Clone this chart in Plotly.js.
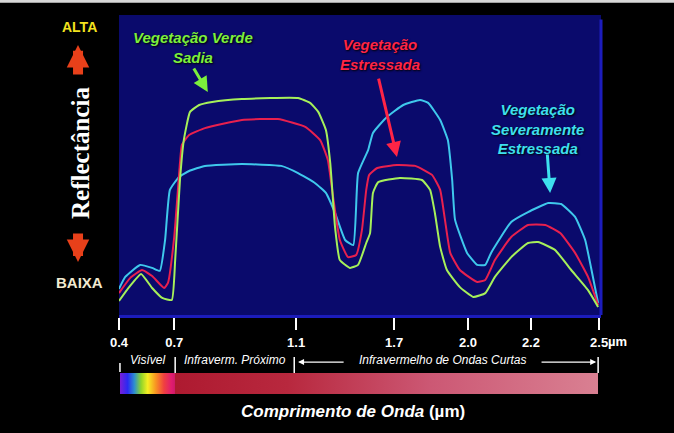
<!DOCTYPE html>
<html>
<head>
<meta charset="utf-8">
<script src="https://cdn.plot.ly/plotly-3.0.1.min.js"></script>
<style>
  html, body { margin: 0; padding: 0; background: #000; }
  #chart { width: 674px; height: 433px; }
</style>
</head>
<body>
<div id="chart"></div>
<script>
// Position along the (schematic) wavelength scale, 0 = 0.4 µm, 100 = 2.5 µm
var tickPositions = [0, 11.5, 36.9, 57.3, 72.7, 85.8, 100];
var tickLabels = ["0.4", "0.7", "1.1", "1.7", "2.0", "2.2", "2.5"];

// Relative reflectance (0 = low, 100 = high)
var greenX = [0, 2.1, 4.6, 6.9, 9.0, 11.0, 11.7, 12.7, 13.5, 14.8, 16.7, 19.4, 25.6, 37.3, 39.8, 41.5, 43.1, 44.0, 45.0, 46.0, 48.1, 49.8, 51.5, 52.3, 52.9, 54.0, 58.5, 63.1, 64.8, 65.8, 66.9, 68.3, 71.0, 73.8, 76.3, 78.3, 81.7, 85.2, 87.3, 90.8, 94.2, 97.7, 99.8];
var greenY = [4.7, 9.3, 13.7, 9.0, 5.7, 5.0, 18.3, 45.0, 58.3, 67.7, 70.0, 71.0, 72.0, 72.3, 70.7, 67.7, 61.7, 50.7, 29.3, 18.3, 15.7, 16.7, 24.0, 27.3, 40.7, 44.3, 45.7, 45.0, 41.7, 34.0, 22.7, 15.0, 9.3, 6.0, 7.3, 12.7, 19.3, 24.0, 24.3, 21.7, 15.0, 8.3, 2.7];

var redX = [0, 2.3, 4.8, 6.9, 9.4, 10.2, 11.5, 12.7, 13.1, 14.6, 17.9, 25.6, 33.1, 38.8, 41.9, 43.5, 44.6, 46.0, 47.7, 49.4, 50.6, 51.5, 52.1, 53.8, 57.9, 61.7, 65.2, 66.9, 67.9, 69.0, 71.0, 74.6, 76.3, 78.3, 81.7, 85.2, 88.8, 91.9, 95.0, 97.7, 99.8];
var redY = [7.3, 12.3, 15.0, 13.0, 9.0, 10.7, 26.0, 50.7, 56.7, 60.0, 62.3, 65.0, 65.3, 62.7, 58.3, 51.7, 39.3, 25.0, 19.3, 20.0, 28.3, 41.7, 46.7, 49.0, 50.0, 49.7, 46.7, 41.7, 31.7, 20.7, 15.0, 11.0, 11.7, 18.3, 26.0, 30.0, 30.0, 27.3, 20.7, 12.7, 3.3];

var cyanX = [0, 1.3, 4.4, 6.9, 8.5, 9.6, 10.6, 12.5, 14.6, 17.9, 25.6, 33.8, 37.3, 40.8, 43.1, 45.0, 47.1, 48.8, 49.8, 51.9, 52.9, 55.8, 59.2, 62.7, 64.4, 66.9, 68.5, 69.4, 70.0, 72.5, 74.6, 76.3, 77.5, 81.7, 85.2, 89.4, 92.1, 95.0, 97.1, 98.3, 99.8];
var cyanY = [8.7, 12.7, 16.7, 15.7, 14.7, 25.0, 41.7, 46.0, 48.0, 49.7, 50.3, 49.7, 47.3, 44.0, 40.7, 34.0, 25.0, 23.3, 47.3, 55.0, 60.7, 66.0, 70.0, 71.7, 70.7, 65.0, 58.3, 45.0, 31.7, 20.7, 16.7, 16.7, 20.7, 31.0, 34.3, 37.3, 37.0, 32.7, 25.0, 16.0, 4.0];

var FONT = "Liberation Sans, Arial, Helvetica, sans-serif";

function curve(x, y, color, name) {
  return {
    type: "scatter", mode: "lines", name: name, x: x, y: y,
    line: { color: color, width: 2, shape: "spline", smoothing: 0.4 },
    hoverinfo: "skip"
  };
}

var traces = [
  curve(cyanX, cyanY, "#3fc8ec", "Vegetação Severamente Estressada"),
  curve(redX, redY, "#e8204e", "Vegetação Estressada"),
  curve(greenX, greenY, "#a6f05a", "Vegetação Verde Sadia")
];

var svg = '<svg xmlns="http://www.w3.org/2000/svg" width="480" height="21" viewBox="0 0 480 21" preserveAspectRatio="none">' +
  '<defs><linearGradient id="g" x1="0" y1="0" x2="1" y2="0">' +
  '<stop offset="0" stop-color="#7a1ed8"/>' +
  '<stop offset="0.016" stop-color="#2a2af2"/>' +
  '<stop offset="0.03" stop-color="#2d8fd0"/>' +
  '<stop offset="0.044" stop-color="#8ed42a"/>' +
  '<stop offset="0.058" stop-color="#f6ee22"/>' +
  '<stop offset="0.075" stop-color="#f89422"/>' +
  '<stop offset="0.092" stop-color="#f04040"/>' +
  '<stop offset="0.108" stop-color="#e01c70"/>' +
  '<stop offset="0.114" stop-color="#d21a6a"/>' +
  '<stop offset="0.116" stop-color="#ae1a30"/>' +
  '<stop offset="0.35" stop-color="#b8283e"/>' +
  '<stop offset="0.65" stop-color="#cc5874"/>' +
  '<stop offset="1" stop-color="#d98092"/>' +
  '</linearGradient></defs><rect x="0" y="0" width="480" height="21" fill="url(#g)"/></svg>';
var svgURI = "data:image/svg+xml;charset=utf-8," + encodeURIComponent(svg);

var shadow = "1px 1px 2px #000";

function pLabel(x, y, text, font, extra) {
  var a = { xref: "paper", yref: "paper", x: x, y: y, text: text, showarrow: false,
            xanchor: "center", yanchor: "middle", font: font };
  if (extra) for (var k in extra) a[k] = extra[k];
  return a;
}

var layout = {
  width: 674, height: 433,
  margin: { l: 119, r: 73, t: 15, b: 118, pad: 0 },
  paper_bgcolor: "#000000",
  plot_bgcolor: "#0a0a6c",
  showlegend: false,
  xaxis: {
    range: [0, 100.4], showgrid: false, zeroline: false,
    tickmode: "array", tickvals: tickPositions, ticktext: tickLabels,
    ticks: "outside", ticklen: 12, tickwidth: 2, tickcolor: "#ffffff",
    ticklabelstandoff: 1,
    tickfont: { family: FONT, size: 13, color: "#ffffff", weight: "bold" },
    showline: true, linecolor: "#1c1cbc", linewidth: 3,
    fixedrange: true
  },
  yaxis: {
    range: [0, 100], showgrid: false, zeroline: false,
    showticklabels: false, ticks: "", showline: false, fixedrange: true
  },
  images: [{
    source: svgURI, xref: "x", yref: "paper",
    x: 0.2, y: -0.1933, sizex: 99.6, sizey: 0.07,
    xanchor: "left", yanchor: "top", sizing: "stretch", layer: "above"
  }],
  shapes: [
    { type: "rect", xref: "paper", yref: "paper", x0: -0.26, x1: 1.16, y0: 1.041, y1: 1.06,
      fillcolor: "#d8d8d8", line: { width: 0 } },
    { type: "line", xref: "paper", yref: "paper", x0: 1, x1: 1, y0: 0, y1: 0.985,
      line: { color: "#1c1cbc", width: 3 } },
    { type: "line", xref: "x", yref: "paper", x0: 0.2, x1: 0.2, y0: -0.16, y1: -0.19, line: { color: "#ffffff", width: 1.5 } },
    { type: "line", xref: "x", yref: "paper", x0: 11.7, x1: 11.7, y0: -0.14, y1: -0.1933, line: { color: "#ffffff", width: 1.5 } },
    { type: "line", xref: "x", yref: "paper", x0: 36.5, x1: 36.5, y0: -0.14, y1: -0.1933, line: { color: "#ffffff", width: 1.5 } },
    { type: "line", xref: "x", yref: "paper", x0: 99.8, x1: 99.8, y0: -0.14, y1: -0.1933, line: { color: "#ffffff", width: 1.5 } }
  ],
  annotations: [
    pLabel(-0.081, 0.96, "<b>ALTA</b>", { family: FONT, size: 14, color: "#f2e21e" }),
    pLabel(-0.081, 0.107, "<b>BAIXA</b>", { family: FONT, size: 15, color: "#f2ead0" }),
    pLabel(-0.081, 0.54, "<b>Reflectância</b>", { family: "Liberation Serif, Times New Roman, serif", size: 25, color: "#ffffff" }, { textangle: -90 }),
    { xref: "paper", yref: "paper", x: -0.085, y: 0.9, ax: 0, ay: 31, text: "", showarrow: true,
      arrowhead: 2, arrowsize: 0.45, arrowwidth: 10, arrowcolor: "#e8401a" },
    { xref: "paper", yref: "paper", x: -0.085, y: 0.177, ax: 0, ay: -30, text: "", showarrow: true,
      arrowhead: 2, arrowsize: 0.45, arrowwidth: 10, arrowcolor: "#e8401a" },

    { xref: "x", yref: "y", x: 15.4, y: 89.3, text: "<b><i>Vegetação Verde<br>Sadia</i></b>", showarrow: false,
      font: { family: FONT, size: 15, color: "#7cf03c", shadow: shadow } },
    { xref: "x", yref: "y", x: 18.5, y: 74.3, axref: "x", ayref: "y", ax: 15.4, ay: 82.7, text: "",
      showarrow: true, arrowhead: 2, arrowsize: 1, arrowwidth: 3, arrowcolor: "#7cf03c" },

    { xref: "x", yref: "y", x: 54.4, y: 87, text: "<b><i>Vegetação<br>Estressada</i></b>", showarrow: false,
      font: { family: FONT, size: 15, color: "#ff2446", shadow: shadow } },
    { xref: "x", yref: "y", x: 57.9, y: 52.7, axref: "x", ayref: "y", ax: 54.0, ay: 79.3, text: "",
      showarrow: true, arrowhead: 2, arrowsize: 1, arrowwidth: 3, arrowcolor: "#ff2446" },

    { xref: "x", yref: "y", x: 87.1, y: 62, text: "<b><i>Vegetação<br>Severamente<br>Estressada</i></b>", showarrow: false,
      font: { family: FONT, size: 15, color: "#3ee0ee", shadow: shadow } },
    { xref: "x", yref: "y", x: 89.8, y: 40.7, axref: "x", ayref: "y", ax: 89.2, ay: 54.0, text: "",
      showarrow: true, arrowhead: 2, arrowsize: 1, arrowwidth: 3, arrowcolor: "#3ee0ee" },

    pLabel(1.0105, -0.087, "<b>µm</b>", { family: FONT, size: 13, color: "#ffffff" }, { xanchor: "left" }),

    pLabel(0.059, -0.15, "<i>Visível</i>", { family: FONT, size: 12, color: "#ffffff" }),
    pLabel(0.241, -0.15, "<i>Infraverm. Próximo</i>", { family: FONT, size: 12, color: "#ffffff" }),
    pLabel(0.672, -0.15, "<i>Infravermelho de Ondas Curtas</i>", { family: FONT, size: 12, color: "#ffffff" }),
    { xref: "x", yref: "paper", x: 37.3, y: -0.157, axref: "x", ayref: "paper", ax: 47.1, ay: -0.157, text: "",
      showarrow: true, arrowhead: 2, arrowsize: 1, arrowwidth: 1.2, arrowcolor: "#ffffff" },
    { xref: "x", yref: "paper", x: 99.4, y: -0.157, axref: "x", ayref: "paper", ax: 87.7, ay: -0.157, text: "",
      showarrow: true, arrowhead: 2, arrowsize: 1, arrowwidth: 1.2, arrowcolor: "#ffffff" },

    pLabel(0.485, -0.323, "<b><i>Comprimento de Onda</i> (µm)</b>", { family: FONT, size: 17, color: "#ffffff" })
  ]
};

Plotly.newPlot("chart", traces, layout, { displayModeBar: false, staticPlot: true });
</script>
</body>
</html>
